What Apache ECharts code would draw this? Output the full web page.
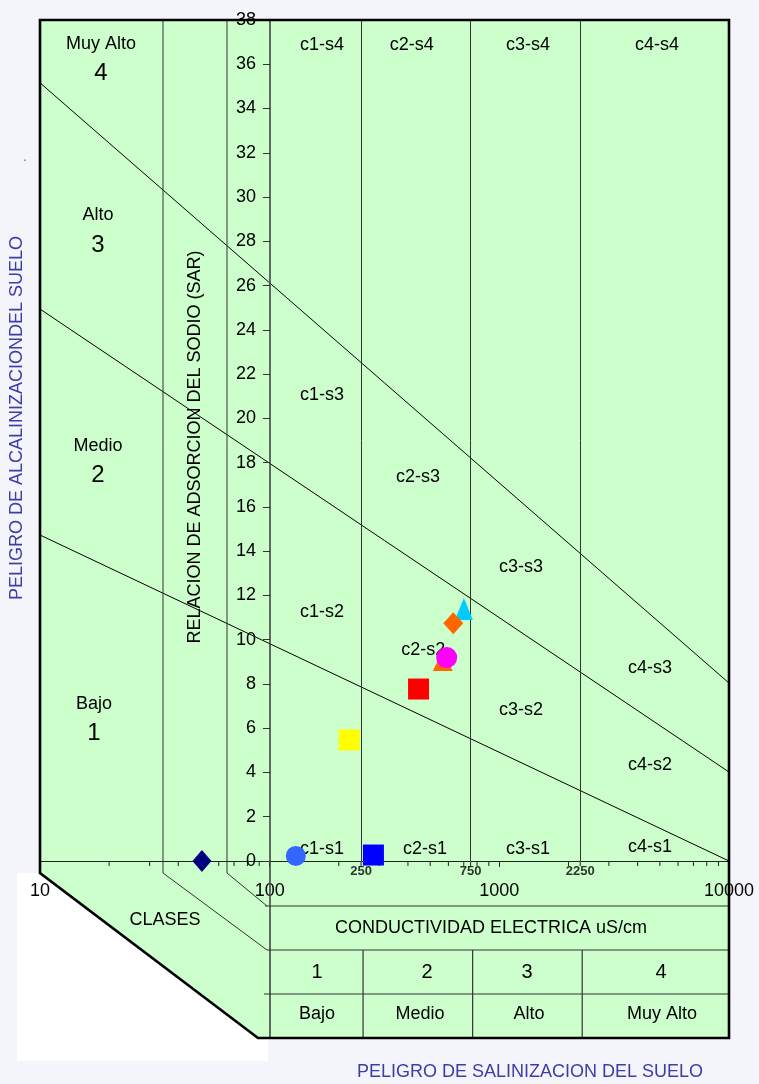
<!DOCTYPE html>
<html><head><meta charset="utf-8">
<script src="https://cdn.jsdelivr.net/npm/echarts@6/dist/echarts.min.js"></script>
<style>html,body{margin:0;padding:0;background:#f4f4fb;}#c{width:759px;height:1084px;}</style>
</head><body><div id="c"></div>
<script>
// ---------------- data ----------------
const xTickValues = [10, 100, 1000, 10000];
const classBreaksEC = [250, 750, 2250];
const minorTicksEC = [20,30,40,50,60,70,80,90,200,250,300,400,500,600,700,750,800,900,2000,2250,3000,4000,5000,6000,7000,8000,9000];
const hazardLineEC = [10, 10000];
const lineS1S2 = [14.73, 0];
const lineS2S3 = [24.94, 4.02];
const lineS3S4 = [35.16, 8.04];
const sampleEC  = [50.7, 130, 283, 222, 445, 567, 590, 701, 630];
const sampleSAR = [0, 0.23, 0.27, 5.47, 7.77, 9.04, 9.19, 11.39, 10.74];
const zoneNames = ['c1-s4','c2-s4','c3-s4','c4-s4','c1-s3','c2-s3','c3-s3','c4-s3','c1-s2','c2-s2','c3-s2','c4-s2','c1-s1','c2-s1','c3-s1','c4-s1'];
const zoneEC  = [169, 416, 1332, 4855, 169, 442, 1242, 4524, 169, 466, 1242, 4524, 169, 475, 1332, 4524];
const zoneSAR = [36.87, 36.87, 36.87, 36.87, 21.06, 17.34, 13.27, 8.71, 11.27, 9.53, 6.82, 4.34, 0.53, 0.53, 0.53, 0.62];
const alkClasses = ['Muy Alto', 'Alto', 'Medio', 'Bajo'];
const alkNumbers = ['4', '3', '2', '1'];
const salNumbers = ['1', '2', '3', '4'];
const salClasses = ['Bajo', 'Medio', 'Alto', 'Muy Alto'];

// ---------------- styles ----------------
const FONT = '"Liberation Sans", Arial, sans-serif';
const sampleSymbols = ['diamond','circle','rect','rect','rect','triangle','circle','triangle','diamond'];
const sampleColors  = ['#000080','#3366ff','#0000ff','#ffff00','#ff0000','#ff6600','#ff00ff','#00ccff','#ff6600'];
const sampleSizes   = [[19,22],20,21,21,21,[20,20],21,[18,22],[20,22]];
const alkLabelPos = [[101,44,73],[98,215,245],[98,446,475],[94,704,733]];
const salNumX = [317, 427, 527, 661];
const salClassX = [317, 420, 529, 662];

const chart = echarts.init(document.getElementById('c'), null, {renderer: 'canvas'});

const lineSeries = (vals, extra) => Object.assign({
  type: 'line', xAxisIndex: 0, yAxisIndex: 0, symbol: 'none', silent: true, z: 3,
  lineStyle: {color: '#000', width: 1},
  data: hazardLineEC.map((ec, i) => [ec, vals[i]])
}, extra || {});

const option = {
  backgroundColor: '#f4f4fb',
  animation: false,
  grid: [
    {left: 40, right: 30, top: 20, bottom: 223, show: false},
    {left: 270, right: 30, top: 20, bottom: 223, show: false}
  ],
  xAxis: [
    {type: 'log', logBase: 10, min: 10, max: 10000, gridIndex: 0, z: 4,
     axisLine: {show: true, lineStyle: {color: '#222', width: 1.2}},
     axisTick: {show: true, inside: false, length: 6, lineStyle: {color: '#222'}},
     axisLabel: {margin: 21, fontSize: 18, color: '#000', fontFamily: FONT,
                 formatter: v => String(Math.round(v)), showMinLabel: true, showMaxLabel: true},
     splitLine: {show: false}},
    {type: 'value', gridIndex: 1, show: false, min: 0, max: 1}
  ],
  yAxis: [
    {type: 'value', min: 0, max: 38, gridIndex: 0, show: false},
    {type: 'value', min: 0, max: 38, interval: 2, gridIndex: 1, z: 4,
     axisLine: {show: true, lineStyle: {color: '#444', width: 1.6}},
     axisTick: {show: true, inside: false, length: 7, lineStyle: {color: '#333'}},
     axisLabel: {fontSize: 18, color: '#000', fontFamily: FONT, margin: 14},
     splitLine: {show: false}}
  ],
  series: [
    lineSeries(lineS3S4, {
      markLine: {silent: true, symbol: ['none', 'none'], label: {show: false},
                 lineStyle: {color: '#333', type: 'solid', width: 1},
                 data: classBreaksEC.map(v => ({xAxis: v}))}
    }),
    lineSeries(lineS2S3),
    lineSeries(lineS1S2),
    {
      type: 'custom', xAxisIndex: 0, yAxisIndex: 0, silent: true, z: 4, clip: false,
      data: minorTicksEC.map(v => [v, 0]),
      renderItem: (params, api) => {
        const p = api.coord([api.value(0), 0]);
        return {type: 'line', shape: {x1: p[0], y1: p[1], x2: p[0], y2: p[1] + 5},
                style: {stroke: '#222', lineWidth: 1}};
      }
    },
    {
      type: 'scatter', xAxisIndex: 0, yAxisIndex: 0, silent: true, z: 4,
      symbolSize: 1, itemStyle: {color: '#ccffcc'},
      label: {show: true, position: 'bottom', distance: 3, fontSize: 13, fontWeight: 'bold',
              color: '#000', textBorderWidth: 0, fontFamily: FONT, formatter: p => p.name},
      data: classBreaksEC.map(v => ({name: String(v), value: [v, 0]}))
    },
    {
      type: 'scatter', xAxisIndex: 0, yAxisIndex: 0, silent: true, z: 3,
      symbolSize: 1, itemStyle: {color: '#ccffcc'},
      label: {show: true, position: 'inside', fontSize: 18, color: '#000', opacity: 1,
              textBorderWidth: 0, textBorderColor: 'transparent', fontFamily: FONT,
              formatter: p => p.name},
      data: zoneNames.map((n, i) => ({name: n, value: [zoneEC[i], zoneSAR[i]]}))
    },
    {
      type: 'scatter', xAxisIndex: 0, yAxisIndex: 0, z: 6,
      data: sampleEC.map((ec, i) => ({
        value: [ec, sampleSAR[i]], symbol: sampleSymbols[i], symbolSize: sampleSizes[i],
        itemStyle: {color: sampleColors[i], opacity: 1}
      }))
    }
  ]
};
chart.setOption(option);

// ---------------- frame / table (layout) ----------------
const X0 = 40, X1 = 729, YT = 20, YA = 861, YL = 873, YB = 1038;
const colA = 163, colB = 227, colC = 270;
const row1 = 906, row2 = 950, row3 = 994;
const LC = '#333';
const txt = (text, x, y, size, extra) => Object.assign({
  type: 'text', x: x, y: y, z: 20,
  style: {text: text, fontSize: size, fontFamily: FONT, fill: '#000', align: 'center', verticalAlign: 'middle'}
}, extra || {});
const seg = (pts, w, color, z) => ({type: 'polyline', z: z || 15, silent: true,
  shape: {points: pts}, style: {stroke: color || LC, lineWidth: w || 1, fill: null}});

const g = [];
g.push({type: 'rect', z: -30, shape: {x: 17, y: YL, width: 251, height: 188}, style: {fill: '#ffffff'}});
g.push({type: 'polygon', z: -20, shape: {points: [[X0, YT], [X1, YT], [X1, YB], [258, YB], [X0, YL]]},
        style: {fill: '#ccffcc'}});
g.push(seg([[colA, YT], [colA, YL], [267, row2]]));
g.push(seg([[colB, YT], [colB, YL], [267, row1]]));
g.push(seg([[colC, YA], [colC, YB]], 1.6, '#444'));
g.push(seg([[265, row1], [X1, row1]]));
g.push(seg([[267, row2], [X1, row2]]));
g.push(seg([[264, row3], [X1, row3]]));
classBreaksEC.forEach(v => {
  const px = chart.convertToPixel({xAxisIndex: 0}, v) + 2;
  g.push(seg([[px, row2], [px, YB]], 1.2));
});
g.push({type: 'polygon', z: 25, silent: true,
        shape: {points: [[X0, YT], [X1, YT], [X1, YB], [258, YB], [X0, YL]]},
        style: {fill: null, stroke: '#000', lineWidth: 2.6}});
alkClasses.forEach((t, i) => {
  const p = alkLabelPos[i];
  g.push(txt(t, p[0], p[1], 18));
  g.push(txt(alkNumbers[i], p[0], p[2], 24));
});
g.push(txt('RELACION DE ADSORCION DEL SODIO (SAR)', 195, 447, 18, {rotation: Math.PI / 2}));
g.push(txt('PELIGRO DE ALCALINIZACIONDEL SUELO', 17, 418, 18, {rotation: Math.PI / 2}));
g[g.length - 1].style.fill = '#3c3caa';
g.push(txt('.', 25, 157, 14, {}));
g[g.length - 1].style.fill = '#777';
g.push(txt('CLASES', 165, 920, 18));
g.push(txt('CONDUCTIVIDAD ELECTRICA uS/cm', 491, 928, 18));
salNumbers.forEach((t, i) => g.push(txt(t, salNumX[i], 972, 20)));
salClasses.forEach((t, i) => g.push(txt(t, salClassX[i], 1014, 18)));
g.push(txt('PELIGRO DE SALINIZACION DEL SUELO', 530, 1072, 18));
g[g.length - 1].style.fill = '#3c3caa';

chart.setOption({graphic: {elements: g}});
</script>
</body></html>
